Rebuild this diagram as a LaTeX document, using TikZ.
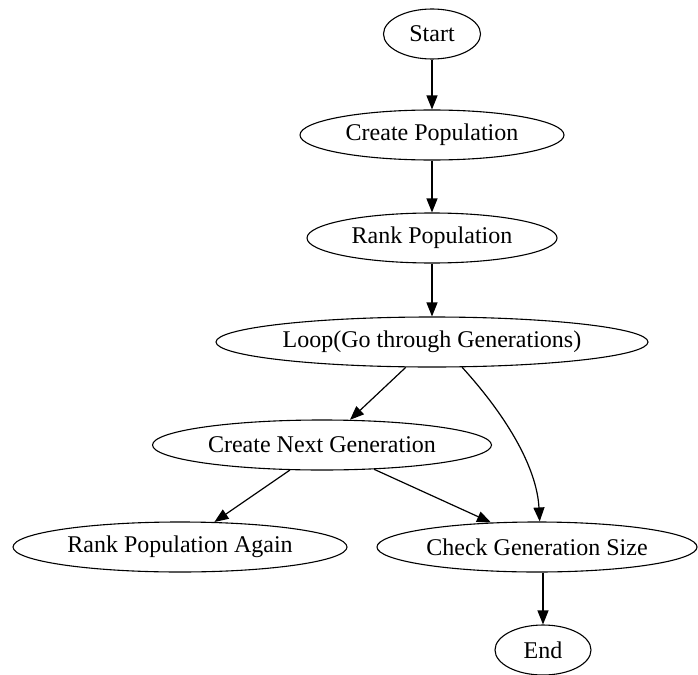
\documentclass[tikz,border=0pt]{standalone}
\usepackage{fontspec}
\setmainfont{Liberation Serif}
\usetikzlibrary{arrows.meta,shapes.geometric}

\tikzset{
  stage/.style={ellipse, draw, line width=1.1pt, inner sep=0pt,
    minimum height=50pt, font=\fontsize{24}{28}\selectfont},
  flow/.style={line width=1.2pt, -{Triangle[length=14pt,width=11pt]}}
}

\begin{document}
\begin{tikzpicture}[x=1pt, y=-1pt]
  \useasboundingbox (0,0) rectangle (698,674);

  \node[stage, minimum width=97pt]  (start) at (432,34)  {Start};
  \node[stage, minimum width=264pt] (cpop)  at (432,135) {Create Population};
  \node[stage, minimum width=250pt] (rpop)  at (432,238) {Rank Population};
  \node[stage, minimum width=432pt] (loop)  at (432,342) {Loop(Go through Generations)};
  \node[stage, minimum width=339pt] (cng)   at (322,445) {Create Next Generation};
  \node[stage, minimum width=334pt] (rpa)   at (180,547) {Rank Population Again};
  \node[stage, minimum width=320pt] (cgs)   at (537,547) {Check Generation Size};
  \node[stage, minimum width=96pt]  (end)   at (543,650) {End};

  \draw[flow] (start) -- (cpop);
  \draw[flow] (cpop) -- (rpop);
  \draw[flow] (rpop) -- (loop);
  \draw[flow] (loop.-136) -- (cng.42);
  \draw[flow] (loop.-40) .. controls (510,420) and (537,470) .. (cgs.84);
  \draw[flow] (cng.-142) -- (rpa.36);
  \draw[flow] (cng.-25) -- (cgs.152);
  \draw[flow] (end.north |- cgs.south) -- (end.north);
\end{tikzpicture}
\end{document}
